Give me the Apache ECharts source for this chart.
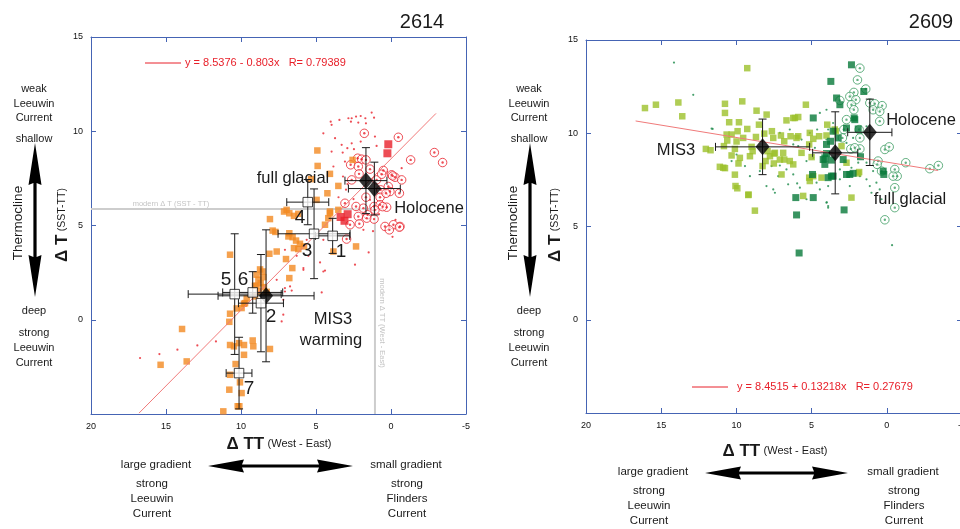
<!DOCTYPE html>
<html><head><meta charset="utf-8">
<script src="https://cdn.jsdelivr.net/npm/echarts@6/dist/echarts.min.js"></script>
<style>html,body{margin:0;padding:0;background:#fff}#c{width:960px;height:529px}</style>
</head><body><div id="c"></div>
<script>
// ---------- axis ticks ----------
const xTicks = [20, 15, 10, 5, 0, -5];
const yTicks = [15, 10, 5, 0];
const titles = ['2614', '2609'];

// ---------- core 2614 (left) ----------
const L_fit = [8.5376, -0.803];            // intercept, slope
const L_fitX = [16.8, -3.0];
const L_modernDT = 5.88;                    // modern ΔT (SST-TT)
const L_modernDTT = 1.07;                   // modern ΔTT (West-East)
const L_orange = [[8.07,5.34],[6.78,5.65],[6.47,5.51],[6.18,5.62],[7.89,4.73],[7.71,4.66],[6.78,4.59],[6.56,4.38],[6.33,4.20],[6.07,4.03],[6.18,3.75],[5.80,3.89],[7.62,3.62],[8.11,3.50],[6.78,2.21],[6.58,2.74],[8.56,2.56],[8.51,2.26],[8.69,1.94],[8.96,1.80],[8.47,1.73],[8.29,1.48],[9.62,1.13],[9.80,0.85],[10.29,0.60],[10.73,0.32],[10.78,-0.11],[10.73,3.45],[13.93,-0.49],[15.36,-2.39],[13.62,-2.21],[10.73,-1.34],[10.47,-1.41],[10.13,-1.24],[9.80,-1.34],[9.18,-1.41],[9.22,-1.10],[9.80,-1.86],[10.36,-2.35],[10.78,-3.71],[9.96,-3.89],[10.11,-4.59],[11.18,-4.86],[4.40,5.04],[4.07,5.65],[2.33,3.89],[8.07,-1.55],[8.96,2.39],[4.91,8.98],[4.89,8.16],[4.07,7.74],[5.33,7.46],[3.51,7.10],[4.24,6.71],[4.96,6.36],[2.56,8.48],[4.07,5.74],[3.51,5.83],[7.00,3.22],[6.84,4.42],[6.47,3.80],[9.07,1.24],[9.73,0.88],[9.96,0.62],[10.73,-2.92],[10.07,-3.32],[10.22,-4.59],[3.84,3.62],[4.18,5.39],[6.96,5.83],[7.13,5.74],[8.73,2.67],[8.84,2.12],[9.07,1.80],[8.80,1.50]];
const L_redDots = [[4.02,10.51],[3.96,10.34],[3.44,10.60],[2.84,10.69],[2.62,10.69],[2.33,10.78],[2.02,10.81],[1.71,10.69],[1.29,10.99],[1.13,10.72],[1.67,10.42],[2.18,10.46],[2.67,10.51],[4.51,9.89],[3.73,9.63],[3.29,9.28],[3.96,8.92],[2.62,9.36],[2.02,9.45],[1.07,9.72],[0.96,9.22],[3.22,8.87],[2.91,9.10],[3.07,8.39],[2.47,9.05],[-0.71,8.04],[3.84,8.13],[0.29,7.86],[1.40,6.36],[16.73,-2.03],[15.44,-1.82],[14.24,-1.59],[12.91,-1.36],[11.67,-1.15],[7.18,0.27],[7.29,-0.09],[7.18,1.06],[7.07,1.68],[6.73,1.77],[6.62,1.55],[6.29,3.39],[7.07,3.71],[4.73,3.04],[4.62,1.45],[4.40,2.61],[5.84,2.74],[2.40,2.92],[1.49,3.57],[1.84,4.77],[5.62,4.24],[4.51,4.24],[7.62,2.12],[3.20,7.60],[2.90,7.20],[3.50,6.50],[3.00,6.90],[2.50,6.40],[1.20,4.70],[0.80,5.60],[-0.30,5.30],[-0.10,4.40],[7.07,1.50],[5.51,3.39],[4.51,2.56],[5.84,2.65]];
const L_redRings = [[1.78,9.89],[-0.49,9.68],[-1.31,8.48],[-2.89,8.87],[-3.44,8.34],[2.22,8.57],[1.96,8.52],[1.67,8.48],[2.69,8.22],[2.18,8.13],[1.40,7.99],[0.51,7.92],[-0.04,7.69],[-0.27,7.56],[-0.71,7.42],[2.13,7.74],[2.62,7.42],[0.96,7.42],[0.69,6.89],[0.18,7.07],[0.07,6.80],[1.67,6.50],[0.73,6.50],[2.33,6.01],[1.84,5.92],[1.13,6.01],[0.73,6.10],[0.29,5.97],[2.18,5.48],[1.56,5.57],[0.40,4.95],[-0.16,5.04],[1.13,5.34],[-0.56,6.71],[0.62,7.72],[-0.11,7.63],[0.33,6.71],[-0.60,4.95],[3.07,6.18],[2.73,5.04],[2.11,5.09],[1.62,5.39],[1.07,5.83],[0.56,6.00],[0.11,4.77],[-0.56,4.91],[2.96,4.28]];
const L_redSquares = [[0.18,9.31],[0.24,8.83],[3.36,5.45],[2.89,5.60],[3.10,5.25]];
// means: x, y, x-error, y-error  (full glacial, Holocene, MIS3 warming)
const L_means = [[1.67,7.38,1.40,1.75],[1.11,6.96,1.73,1.40],[8.33,1.27,3.20,3.50]];
// numbered events 1..7: x, y, x-error, y-error
const L_events = [[3.89,4.45,1.14,0.93],[8.67,0.88,1.50,2.58],[5.13,4.56,2.40,2.38],[5.55,6.24,1.40,1.20],[10.42,1.36,3.10,3.20],[9.22,1.45,2.00,1.10],[10.13,-2.83,0.86,1.90]];

// ---------- core 2609 (right) ----------
const R_fit = [8.4515, 0.13218];
const R_fitX = [16.7, -3.4];
const R_light = [[9.28,13.49],[16.08,11.35],[15.35,11.53],[13.86,11.65],[13.60,10.91],[10.76,11.58],[10.76,11.09],[9.61,11.71],[10.48,10.59],[9.83,10.59],[8.66,11.21],[7.99,11.00],[8.50,10.46],[9.28,10.23],[9.92,10.11],[10.65,9.93],[10.32,9.93],[10.61,9.61],[9.99,9.56],[9.55,9.75],[8.70,9.80],[8.15,9.98],[7.64,10.11],[7.04,9.88],[6.67,10.69],[6.82,9.57],[12.03,9.16],[11.72,9.09],[10.83,9.31],[10.10,9.16],[10.32,8.81],[9.77,8.68],[9.10,8.77],[8.92,9.04],[8.99,9.27],[7.93,9.04],[7.51,8.91],[7.77,8.77],[8.06,8.51],[8.26,8.24],[7.51,8.38],[6.82,8.59],[9.86,8.38],[11.10,8.20],[10.76,8.13],[10.10,7.78],[7.00,7.79],[10.06,7.17],[9.94,7.05],[9.19,6.71],[8.77,5.85],[6.22,10.82],[5.89,10.87],[5.38,11.53],[7.55,9.75],[7.44,8.95],[7.11,8.59],[6.89,8.95],[6.45,8.51],[6.22,8.33],[6.40,9.84],[5.89,9.84],[5.16,9.40],[4.50,9.84],[3.96,10.46],[3.39,10.11],[4.89,7.70],[5.12,7.44],[5.56,6.64],[2.35,6.55],[1.84,7.92],[2.68,8.42],[9.21,6.69],[6.11,10.82],[5.12,10.02],[4.89,9.70],[4.01,9.88],[3.46,10.20],[6.00,9.75],[5.67,8.95],[5.00,8.72],[5.16,7.62],[4.34,7.62],[1.90,7.85],[3.01,9.31],[10.87,8.15]];
const R_dark = [[2.35,13.67],[3.72,12.78],[1.53,12.24],[3.34,11.89],[3.12,11.53],[4.89,10.82],[2.17,10.82],[2.68,10.28],[1.90,10.23],[3.57,10.11],[3.23,9.75],[4.01,9.40],[3.74,9.57],[4.01,8.91],[4.23,8.59],[4.12,8.33],[3.68,8.56],[2.90,8.59],[1.75,8.74],[4.94,7.79],[3.90,7.62],[3.57,7.70],[2.68,7.79],[2.24,7.85],[0.24,7.97],[0.20,7.79],[6.05,6.55],[4.89,6.55],[6.00,5.62],[2.84,5.89],[5.83,3.58],[4.12,8.68],[3.68,7.70],[2.46,7.79],[2.13,10.73]];
const R_rings = [[1.79,13.49],[1.95,12.86],[1.40,12.37],[2.19,12.19],[2.46,11.97],[2.06,11.80],[3.12,11.76],[2.35,11.53],[2.19,11.26],[1.13,11.62],[0.80,11.58],[0.31,11.48],[0.91,11.26],[0.47,11.17],[0.47,10.64],[1.84,10.20],[2.86,10.20],[2.95,9.75],[1.79,9.75],[2.39,9.16],[1.79,9.16],[0.13,9.13],[-0.16,9.27],[0.58,8.51],[0.64,8.33],[0.35,7.97],[-0.53,8.06],[-0.69,7.70],[-1.26,8.42],[-2.86,8.10],[-3.43,8.27],[-0.53,7.08],[-0.53,6.01],[0.13,5.36],[2.68,10.73],[2.13,9.22],[-0.42,7.70]];
const R_dots = [[11.58,10.23],[10.32,8.51],[9.99,8.86],[7.66,8.24],[7.11,8.27],[6.67,8.06],[5.96,7.31],[6.56,7.26],[7.55,6.99],[7.22,7.70],[6.22,7.79],[5.12,7.62],[4.67,7.35],[3.90,7.17],[2.46,7.17],[3.12,7.53],[1.79,7.70],[1.35,7.53],[1.13,7.17],[0.69,7.35],[1.02,6.81],[0.47,6.99],[0.35,6.46],[4.01,6.28],[3.90,6.01],[4.45,6.99],[5.78,7.08],[5.34,6.46],[7.44,6.81],[6.22,9.40],[5.67,9.66],[5.12,10.02],[4.63,10.20],[7.11,10.02],[6.45,10.20],[5.89,9.31],[4.78,9.22],[4.01,9.66],[2.68,9.48],[2.24,9.75],[1.68,10.02],[1.35,10.37],[3.57,10.55],[3.90,10.20],[4.89,8.68],[5.34,8.51],[2.35,8.15],[1.90,8.42],[3.12,8.06],[1.35,8.42],[0.91,7.97],[4.01,11.26],[4.45,11.09],[9.43,8.24],[9.10,7.70],[8.44,7.97],[8.00,7.17],[14.15,13.79],[12.87,12.06],[11.65,10.25],[-0.35,4.00],[3.99,6.30],[3.90,6.10]];
// means: MIS3, full glacial, Holocene
const R_means = [[8.26,9.27,3.13,1.49],[3.43,8.95,1.50,2.20],[1.13,10.05,1.47,1.78]];

// ---------- chart ----------
const F = "'Liberation Sans', Arial, sans-serif";
const AX = '#4564b4';
const chart = echarts.init(document.getElementById('c'), null, {renderer: 'canvas'});

function xAx(gi, pos, lab) {
  return {type: 'value', gridIndex: gi, position: pos, min: -5, max: 20, interval: 5, inverse: true,
    axisLine: {show: true, onZero: false, lineStyle: {color: AX, width: 1}},
    axisTick: {show: true, inside: true, length: 5, lineStyle: {color: AX}},
    axisLabel: {show: lab, fontSize: 9, color: '#111', margin: 8, fontFamily: F, showMinLabel: true, showMaxLabel: true,
      formatter: v => xTicks.includes(v) ? String(v) : ''},
    splitLine: {show: false}};
}
function yAx(gi, pos, lab) {
  return {type: 'value', gridIndex: gi, position: pos, min: -5, max: 15, interval: 5,
    axisLine: {show: true, onZero: false, lineStyle: {color: AX, width: 1}},
    axisTick: {show: true, inside: true, length: 5, lineStyle: {color: AX}},
    axisLabel: {show: lab, fontSize: 9, color: '#111', margin: 8, fontFamily: F,
      formatter: v => yTicks.includes(v) ? String(v) : ''},
    splitLine: {show: false}};
}

function errBars(xi, yi, data, color, z) {
  return {type: 'custom', xAxisIndex: xi, yAxisIndex: yi, z: z, silent: true,
    data: data, encode: {x: 0, y: 1},
    renderItem: function (params, api) {
      const x = api.value(0), y = api.value(1), xe = api.value(2), ye = api.value(3);
      const a = api.coord([x - xe, y]), b = api.coord([x + xe, y]);
      const c = api.coord([x, y - ye]), d = api.coord([x, y + ye]);
      const st = {stroke: color, lineWidth: 1, fill: null};
      const cap = 4;
      return {type: 'group', children: [
        {type: 'line', shape: {x1: a[0], y1: a[1], x2: b[0], y2: b[1]}, style: st},
        {type: 'line', shape: {x1: a[0], y1: a[1] - cap, x2: a[0], y2: a[1] + cap}, style: st},
        {type: 'line', shape: {x1: b[0], y1: b[1] - cap, x2: b[0], y2: b[1] + cap}, style: st},
        {type: 'line', shape: {x1: c[0], y1: c[1], x2: d[0], y2: d[1]}, style: st},
        {type: 'line', shape: {x1: c[0] - cap, y1: c[1], x2: c[0] + cap, y2: c[1]}, style: st},
        {type: 'line', shape: {x1: d[0] - cap, y1: d[1], x2: d[0] + cap, y2: d[1]}, style: st}
      ]};
    }};
}
function sc(xi, yi, data, sym, size, style, z) {
  return {type: 'scatter', xAxisIndex: xi, yAxisIndex: yi, data: data, symbol: sym, symbolSize: size,
    itemStyle: style, z: z, silent: true, animation: false};
}

// ---------- graphics ----------
const T = (x, y, text, size, extra) => Object.assign({type: 'text', x: x, y: y, z: 100,
  style: Object.assign({text: text, fontSize: size, fontFamily: F, fill: '#1a1a1a', align: 'center', verticalAlign: 'middle'}, extra || {})});

function arrowV(cx, y1, y2) {
  const h = 42, w = 6.5, s = 1.6;
  return {type: 'polygon', z: 100, shape: {points: [[cx, y1], [cx + w, y1 + h], [cx + s, y1 + h - 2], [cx + s, y2 - h + 2], [cx + w, y2 - h], [cx, y2], [cx - w, y2 - h], [cx - s, y2 - h + 2], [cx - s, y1 + h - 2], [cx - w, y1 + h]]}, style: {fill: '#000'}};
}
function arrowH(cy, x1, x2) {
  const h = 36, w = 6.5, s = 1.6;
  return {type: 'polygon', z: 100, shape: {points: [[x1, cy], [x1 + h, cy - w], [x1 + h - 2, cy - s], [x2 - h + 2, cy - s], [x2 - h, cy - w], [x2, cy], [x2 - h, cy + w], [x2 - h + 2, cy + s], [x1 + h - 2, cy + s], [x1 + h, cy + w]]}, style: {fill: '#000'}};
}
function sideTexts(cx, thx, dtx) {
  return [
    T(cx, 89, 'weak', 11), T(cx, 104, 'Leeuwin', 11), T(cx, 118, 'Current', 11), T(cx, 139, 'shallow', 11),
    arrowV(cx + 1, 143, 297),
    Object.assign(T(thx, 223, 'Thermocline', 13.5), {rotation: Math.PI / 2}),
    Object.assign(T(dtx, 225, '{a|Δ T} {b|(SST-TT)}', 12, {rich: {a: {fontSize: 17, fontWeight: 'bold', fontFamily: F, fill: '#1a1a1a'}, b: {fontSize: 10.5, fontFamily: F, fill: '#1a1a1a'}}}), {rotation: Math.PI / 2}),
    T(cx, 311, 'deep', 11), T(cx, 333, 'strong', 11), T(cx, 348, 'Leeuwin', 11), T(cx, 363, 'Current', 11)
  ];
}
function bottomTexts(cx, ty, lx, rx, gy, ax1, ax2) {
  return [
    T(cx, ty, '{a|Δ TT} {b|(West - East)}', 12, {rich: {a: {fontSize: 17, fontWeight: 'bold', fontFamily: F, fill: '#1a1a1a'}, b: {fontSize: 11, fontFamily: F, fill: '#1a1a1a'}}}),
    T(lx, gy, 'large gradient', 11.5), T(lx - 4, gy + 19, 'strong', 11.5), T(lx - 4, gy + 34, 'Leeuwin', 11.5), T(lx - 4, gy + 49, 'Current', 11.5),
    T(rx, gy, 'small gradient', 11.5), T(rx + 1, gy + 19, 'strong', 11.5), T(rx + 1, gy + 34, 'Flinders', 11.5), T(rx + 1, gy + 49, 'Current', 11.5),
    arrowH(gy + 1, ax1, ax2)
  ];
}

const graphics = [].concat(
  [T(422, 22, titles[0], 20), T(931, 22, titles[1], 20)],
  sideTexts(34, 18, 62), sideTexts(529, 513, 555),
  bottomTexts(279, 444, 156, 406, 465, 208, 353),
  bottomTexts(775, 451, 653, 903, 472, 705, 848),
  [
    {type: 'line', z: 100, shape: {x1: 145, y1: 63, x2: 181, y2: 63}, style: {stroke: '#e8202a', lineWidth: 1}},
    T(185, 63, 'y = 8.5376 - 0.803x   R= 0.79389', 11, {fill: '#e8202a', align: 'left'}),
    {type: 'line', z: 100, shape: {x1: 692, y1: 387, x2: 728, y2: 387}, style: {stroke: '#e8202a', lineWidth: 1}},
    T(737, 387, 'y = 8.4515 + 0.13218x   R= 0.27679', 11, {fill: '#e8202a', align: 'left'}),
    T(171, 204, 'modern Δ T (SST - TT)', 7.5, {fill: '#c4c4c4'}),
    Object.assign(T(382, 323, 'modern Δ TT (West - East)', 7.5, {fill: '#c4c4c4'}), {rotation: -Math.PI / 2}),
    T(293, 178, 'full glacial', 16.5), T(429, 208, 'Holocene', 16.5),
    T(300, 218, '4', 19), T(307, 251, '3', 19), T(341, 252, '1', 19), T(226, 280, '5', 19), T(243, 280, '6', 19),
    T(271, 317, '2', 19), T(249, 389, '7', 19), T(333, 319, 'MIS3', 16.5), T(331, 340, 'warming', 16.5),
    T(676, 150, 'MIS3', 16.5), T(921, 120, 'Holocene', 16.5), T(910, 199, 'full glacial', 16.5)
  ]
);

const RED = '#e8202a', ORANGE = '#f28a22', LG = '#9cc12b', DG = '#08793a', GR = '#3c9c62';

const option = {
  animation: false,
  backgroundColor: '#fff',
  grid: [
    {left: 91, top: 37, width: 375, height: 377, outerBoundsMode: 'none', containLabel: false},
    {left: 586, top: 40, width: 376, height: 373, outerBoundsMode: 'none', containLabel: false}
  ],
  xAxis: [xAx(0, 'bottom', true), xAx(0, 'top', false), xAx(1, 'bottom', true), xAx(1, 'top', false)],
  yAxis: [yAx(0, 'left', true), yAx(0, 'right', false), yAx(1, 'left', true), yAx(1, 'right', false)],
  series: [
    // left
    {type: 'line', xAxisIndex: 0, yAxisIndex: 0, z: 1, silent: true, showSymbol: false,
      data: [[20, L_modernDT], [L_modernDTT, L_modernDT], [L_modernDTT, -5]], lineStyle: {color: '#cdcdcd', width: 2}},
    sc(0, 0, L_redDots, 'circle', 2.2, {color: RED}, 2),
    sc(0, 0, L_redRings, 'circle', 8.5, {color: 'rgba(255,255,255,0.7)', borderColor: RED, borderWidth: 1}, 2),
    sc(0, 0, L_redRings, 'circle', 2.4, {color: RED}, 2),
    sc(0, 0, L_orange, 'rect', 6.5, {color: ORANGE}, 3),
    sc(0, 0, L_redSquares, 'rect', 8, {color: RED}, 3),
    {type: 'line', xAxisIndex: 0, yAxisIndex: 0, z: 4, silent: true, showSymbol: false,
      data: L_fitX.map(x => [x, L_fit[0] + L_fit[1] * x]), lineStyle: {color: '#f07a7a', width: 1}},
    errBars(0, 0, L_events, '#1a1a1a', 5),
    errBars(0, 0, L_means, '#1a1a1a', 5),
    sc(0, 0, L_means, 'diamond', [14, 17], {color: '#000'}, 7),
    sc(0, 0, L_events, 'rect', 9.5, {color: '#fff', borderColor: '#111', borderWidth: 1}, 8),
    // right
    sc(2, 2, R_dots, 'circle', 2.2, {color: '#1c8a4a'}, 2),
    sc(2, 2, R_rings, 'circle', 8.5, {color: 'rgba(255,255,255,0.7)', borderColor: GR, borderWidth: 1}, 2),
    sc(2, 2, R_rings, 'circle', 2.4, {color: GR}, 2),
    sc(2, 2, R_light, 'rect', 6.5, {color: LG}, 3),
    sc(2, 2, R_dark, 'rect', 7, {color: DG}, 3),
    {type: 'line', xAxisIndex: 2, yAxisIndex: 2, z: 4, silent: true, showSymbol: false,
      data: R_fitX.map(x => [x, R_fit[0] + R_fit[1] * x]), lineStyle: {color: '#f07a7a', width: 1}},
    errBars(2, 2, R_means, '#1a1a1a', 5),
    sc(2, 2, R_means, 'diamond', [14, 17], {color: '#000'}, 7)
  ],
  graphic: graphics
};
chart.setOption(option);
</script></body></html>
